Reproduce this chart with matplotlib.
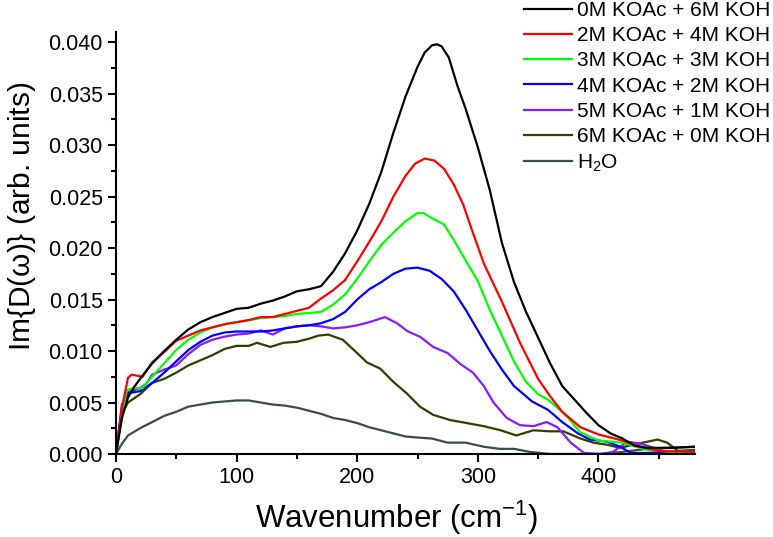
import numpy as np
import matplotlib
matplotlib.use('Agg')
import matplotlib.pyplot as plt

plt.rcParams['font.family'] = ['Liberation Sans', 'DejaVu Sans']
plt.rcParams['mathtext.fontset'] = 'custom'
plt.rcParams['mathtext.rm'] = 'Liberation Sans'
plt.rcParams['mathtext.it'] = 'Liberation Sans'

### data

# 0M KOAc + 6M KOH
x_0m = [0, 5, 10, 15, 20, 30, 40, 50, 60, 70, 80, 90, 100, 110, 120, 130, 140, 150, 160, 170,
        180, 190, 200, 210, 220, 230, 240, 250, 256, 262, 266, 270, 276, 283, 290, 300, 310,
        320, 330, 340, 350, 360, 370, 380, 390, 400, 410, 420, 430, 440, 460, 480]
y_0m = [0, 0.0035, 0.0055, 0.0065, 0.0073, 0.0088, 0.0100, 0.0111, 0.0121, 0.0128, 0.0133,
        0.0137, 0.0141, 0.0142, 0.0146, 0.0149, 0.0153, 0.0158, 0.0160, 0.0163, 0.0177, 0.0195,
        0.0217, 0.0243, 0.0274, 0.0312, 0.0347, 0.0376, 0.0390, 0.0397, 0.0398, 0.0396, 0.0385,
        0.0358, 0.0335, 0.0298, 0.0256, 0.0205, 0.0167, 0.0138, 0.0113, 0.0088, 0.0066, 0.0053,
        0.0040, 0.0028, 0.0020, 0.0015, 0.0008, 0.0006, 0.0006, 0.0007]

# 2M KOAc + 4M KOH
x_2m = [0, 5, 10, 13, 18, 22, 30, 40, 50, 60, 70, 80, 90, 100, 110, 120, 130, 140, 150, 160,
        170, 180, 190, 200, 210, 220, 230, 240, 248, 256, 264, 272, 280, 288, 295, 305, 320,
        335, 350, 360, 370, 385, 400, 420, 435, 450, 480]
y_2m = [0, 0.0045, 0.0074, 0.0077, 0.0076, 0.0075, 0.0089, 0.0099, 0.0110, 0.0115, 0.0120,
        0.0123, 0.0126, 0.0128, 0.0130, 0.0133, 0.0133, 0.0136, 0.0139, 0.0142, 0.0151, 0.0159,
        0.0169, 0.0187, 0.0206, 0.0226, 0.0250, 0.0270, 0.0282, 0.0287, 0.0285, 0.0277, 0.0262,
        0.0242, 0.0218, 0.0185, 0.0148, 0.0108, 0.0073, 0.0056, 0.0041, 0.0026, 0.0019, 0.0013,
        0.0007, 0.0003, 0.0002]

# 3M KOAc + 3M KOH
x_3m = [0, 5, 9, 15, 22, 30, 40, 50, 60, 70, 80, 90, 100, 110, 120, 130, 140, 150, 160, 170,
        180, 190, 200, 210, 220, 230, 240, 250, 255, 262, 272, 280, 290, 300, 310, 320, 330,
        340, 350, 358, 365, 375, 385, 400, 420, 440, 460, 480]
y_3m = [0, 0.0040, 0.0062, 0.0064, 0.0064, 0.0075, 0.0088, 0.0101, 0.0111, 0.0118, 0.0123,
        0.0126, 0.0128, 0.0130, 0.0132, 0.0133, 0.0134, 0.0136, 0.0137, 0.0138, 0.0145, 0.0155,
        0.0170, 0.0187, 0.0203, 0.0215, 0.0226, 0.0234, 0.0234, 0.0229, 0.0223, 0.0208, 0.0188,
        0.0168, 0.0140, 0.0115, 0.0090, 0.0070, 0.0058, 0.0053, 0.0046, 0.0035, 0.0021, 0.0013,
        0.0011, 0.0004, 0.0002, 0.0002]

# 4M KOAc + 2M KOH
x_4m = [0, 5, 10, 20, 30, 40, 50, 60, 70, 80, 90, 100, 110, 120, 130, 140, 150, 160, 170, 180,
        190, 200, 210, 220, 230, 240, 250, 260, 270, 280, 290, 300, 310, 320, 330, 345, 358,
        370, 383, 393, 407, 418, 427, 440, 455, 480]
y_4m = [0, 0.0048, 0.0059, 0.0061, 0.0069, 0.0079, 0.0090, 0.0101, 0.0109, 0.0115, 0.0118,
        0.0119, 0.0119, 0.0119, 0.0120, 0.0122, 0.0124, 0.0125, 0.0127, 0.0131, 0.0138, 0.0150,
        0.0160, 0.0167, 0.0175, 0.0180, 0.0181, 0.0178, 0.0170, 0.0158, 0.0140, 0.0120, 0.0100,
        0.0082, 0.0066, 0.0051, 0.0043, 0.0031, 0.0020, 0.0014, 0.0012, 0.0007, 0.0001, 0.0001,
        0.0002, 0.0001]

# 5M KOAc + 1M KOH
x_5m = [0, 5, 10, 20, 25, 30, 40, 50, 60, 70, 80, 90, 100, 110, 120, 130, 140, 150, 160, 170,
        180, 190, 200, 210, 223, 233, 242, 252, 263, 275, 286, 296, 305, 313, 324, 335, 346,
        357, 366, 377, 388, 402, 412, 424, 435, 446, 457, 480]
y_5m = [0, 0.0045, 0.0060, 0.0064, 0.0068, 0.0077, 0.0082, 0.0086, 0.0097, 0.0106, 0.0111,
        0.0114, 0.0116, 0.0117, 0.0120, 0.0116, 0.0122, 0.0124, 0.0125, 0.0124, 0.0122, 0.0123,
        0.0125, 0.0128, 0.0133, 0.0127, 0.0119, 0.0114, 0.0104, 0.0098, 0.0087, 0.0079, 0.0066,
        0.0050, 0.0035, 0.0028, 0.0027, 0.0031, 0.0026, 0.0011, 0.0001, 0.0000, 0.0002, 0.0012,
        0.0010, 0.0006, 0.0002, 0.0002]

# 6M KOAc + 0M KOH
x_6m = [0, 5, 10, 20, 30, 40, 50, 60, 70, 80, 90, 100, 110, 117, 128, 139, 150, 160, 168, 176,
        188, 200, 208, 219, 230, 241, 252, 263, 277, 291, 305, 319, 332, 346, 360, 371, 385,
        396, 407, 418, 429, 441, 449, 457, 466, 480]
y_6m = [0, 0.0040, 0.0050, 0.0058, 0.0069, 0.0073, 0.0079, 0.0086, 0.0091, 0.0096, 0.0102,
        0.0105, 0.0105, 0.0108, 0.0104, 0.0108, 0.0109, 0.0112, 0.0115, 0.0116, 0.0111, 0.0098,
        0.0089, 0.0083, 0.0070, 0.0059, 0.0046, 0.0038, 0.0033, 0.0030, 0.0027, 0.0023, 0.0018,
        0.0023, 0.0022, 0.0022, 0.0015, 0.0011, 0.0009, 0.0006, 0.0009, 0.0012, 0.0014, 0.0011,
        0.0003, 0.0004]

# H2O
x_h2o = [0, 5, 10, 20, 30, 40, 50, 60, 70, 80, 90, 100, 110, 120, 130, 140, 150, 160, 170, 180,
         190, 200, 210, 220, 230, 240, 250, 262, 275, 290, 305, 318, 330, 343, 360, 400, 420,
         440, 460, 480]
y_h2o = [0, 0.0010, 0.0018, 0.0025, 0.0031, 0.0037, 0.0041, 0.0046, 0.0048, 0.0050, 0.0051,
         0.0052, 0.0052, 0.0050, 0.0048, 0.0047, 0.0045, 0.0042, 0.0039, 0.0035, 0.0033, 0.0030,
         0.0026, 0.0023, 0.0020, 0.0017, 0.0016, 0.0015, 0.0011, 0.0011, 0.0007, 0.0005, 0.0005,
         0.0002, 0.0000, 0.0000, 0.0002, 0.0005, 0.0006, 0.0007]

labels = ['0M KOAc + 6M KOH', '2M KOAc + 4M KOH', '3M KOAc + 3M KOH', '4M KOAc + 2M KOH',
          '5M KOAc + 1M KOH', '6M KOAc + 0M KOH', r'H$_2$O']
xs = [x_0m, x_2m, x_3m, x_4m, x_5m, x_6m, x_h2o]
ys = [y_0m, y_2m, y_3m, y_4m, y_5m, y_6m, y_h2o]
colors = ['#000000', '#ff0000', '#00ff00', '#0000ff', '#8a1aff', '#333d00', '#3d4a4a']

### plot

fig = plt.figure(figsize=(7.73, 5.37), dpi=100)
ax = fig.add_axes([0.150, 0.1546, 0.749, 0.7854])

# draw in reverse so black ends on top
for i in range(len(xs) - 1, -1, -1):
    ax.plot(xs[i], ys[i], color=colors[i], lw=1.6, label=labels[i])

ax.set_xlim(0, 480)
ax.set_ylim(0, 0.04097)
ax.set_xticks([0, 100, 200, 300, 400])
ax.set_xticks(np.arange(50, 480, 100), minor=True)
ax.set_yticks(np.arange(0, 0.0401, 0.005))
ax.set_yticks(np.arange(0.0025, 0.041, 0.005), minor=True)
ax.yaxis.set_major_formatter(matplotlib.ticker.FormatStrFormatter('%.3f'))

for s in ['top', 'right']:
    ax.spines[s].set_visible(False)
for s in ['left', 'bottom']:
    ax.spines[s].set_linewidth(1.5)
ax.tick_params(which='major', direction='out', length=6, width=1.5, labelsize=15.5)
ax.tick_params(which='minor', direction='out', length=3.5, width=1.5)

ax.set_xlabel('Wavenumber (cm$^{\\mathrm{-1}}$)', fontsize=22.5)
ax.set_ylabel(r'Im{D($\omega$)} (arb. units)', fontsize=21.5)
ax.xaxis.set_label_coords(0.485, -0.106)
ax.yaxis.set_label_coords(-0.135, 0.564)

# legend in original order
handles, labs = ax.get_legend_handles_labels()
handles = handles[::-1]
labs = labs[::-1]
fig.legend(handles, labs, loc='upper left', bbox_to_anchor=(0.667, 1.014), frameon=False,
           fontsize=15, handlelength=2.3, handletextpad=0.25, labelspacing=0.3,
           borderaxespad=0)

plt.savefig('out.png', dpi=100)
